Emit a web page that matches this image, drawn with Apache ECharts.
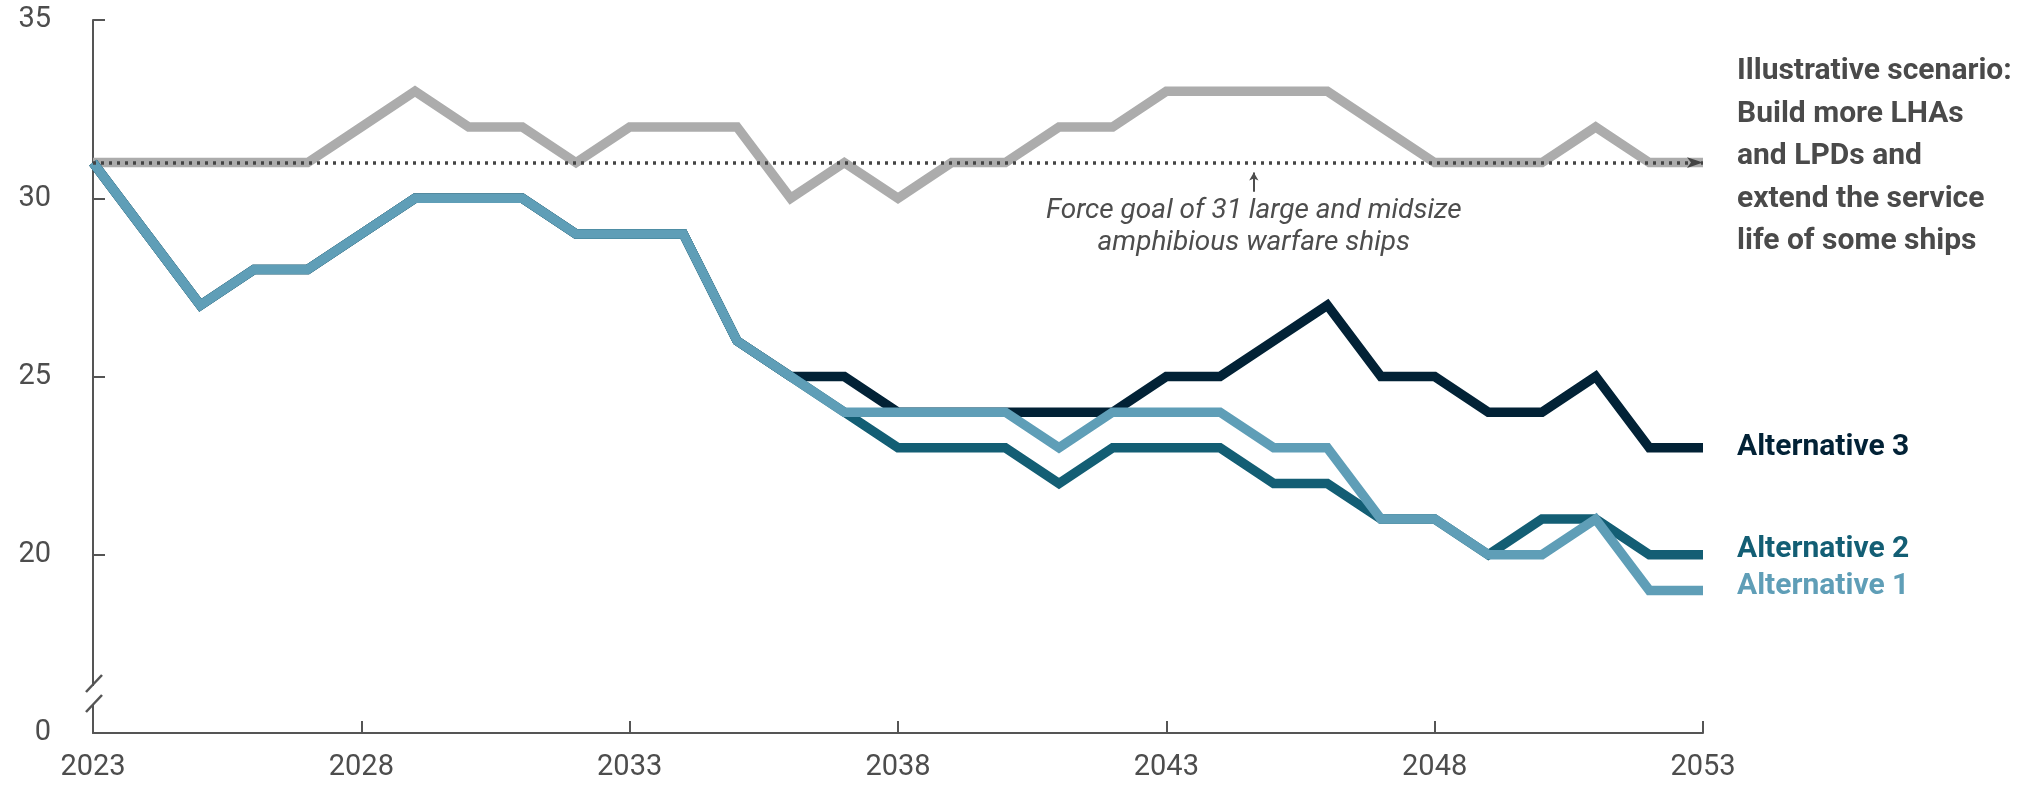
<!DOCTYPE html>
<html>
<head>
<meta charset="utf-8">
<script src="https://cdn.jsdelivr.net/npm/echarts@6/dist/echarts.min.js"></script>
<style>
  html, body { margin: 0; padding: 0; background: #fff; }
  #chart { width: 2033px; height: 787px; }
</style>
</head>
<body>
<div id="chart"></div>
<script>
// years on the x axis
const years = [2023, 2024, 2025, 2026, 2027, 2028, 2029, 2030, 2031, 2032,
  2033, 2034, 2035, 2036, 2037, 2038, 2039, 2040, 2041, 2042,
  2043, 2044, 2045, 2046, 2047, 2048, 2049, 2050, 2051, 2052, 2053]

// number of large and midsize amphibious warfare ships
const scenario = [31, 31, 31, 31, 31, 32, 33, 32, 32, 31,
  32, 32, 32, 30, 31, 30, 31, 31, 32, 32,
  33, 33, 33, 33, 32, 31, 31, 31, 32, 31, 31]
const alt3 = [31, 29, 27, 28, 28, 29, 30, 30, 30, 29,
  29, 29, 26, 25, 25, 24, 24, 24, 24, 24,
  25, 25, 26, 27, 25, 25, 24, 24, 25, 23, 23]
const alt2 = [31, 29, 27, 28, 28, 29, 30, 30, 30, 29,
  29, 29, 26, 25, 24, 23, 23, 23, 22, 23,
  23, 23, 22, 22, 21, 21, 20, 21, 21, 20, 20]
const alt1 = [31, 29, 27, 28, 28, 29, 30, 30, 30, 29,
  29, 29, 26, 25, 24, 24, 24, 24, 23, 24,
  24, 24, 23, 23, 21, 21, 20, 20, 21, 19, 19]

const forceGoal = 31
const yTicks = [15, 20, 25, 30, 35] // 15 sits at the broken bottom, shown as 0
const scenarioLabel = 'Illustrative scenario:\nBuild more LHAs\nand LPDs and\nextend the service\nlife of some ships'
const goalNote = 'Force goal of 31 large and midsize\namphibious warfare ships'

const FONT = 'Roboto, "Noto Sans", sans-serif'
const TEXT = '#4d4d4d'
const AXIS = '#555555'

function pairs (vals) {
  return years.map((y, i) => [y, vals[i]])
}

function lineSeries (name, vals, color, labelText, labelColor, offsetY) {
  return {
    name: name,
    type: 'line',
    data: pairs(vals),
    symbol: 'none',
    lineStyle: { color: color, width: 9.5, join: 'miter', cap: 'butt' },
    endLabel: {
      show: true,
      formatter: labelText,
      color: labelColor,
      fontFamily: FONT,
      fontWeight: 'bold',
      fontSize: 30,
      lineHeight: 42.5,
      distance: 34,
      align: 'left',
      offset: [0, offsetY]
    }
  }
}

let myChart = echarts.init(document.getElementById('chart'), null, { renderer: 'canvas' })

const alt1Series = lineSeries('Alternative 1', alt1, '#5f9eb7', 'Alternative 1', '#5f9eb7', -4)
alt1Series.markLine = {
  silent: true,
  animation: false,
  label: { show: false },
  data: [
    {
      yAxis: forceGoal,
      symbol: 'none',
      lineStyle: { color: '#444', width: 3.5, type: [3, 5] }
    },
    [
      { coord: [2044.63, 30.18], symbol: 'none' },
      { coord: [2044.63, 30.72], symbol: 'arrow', symbolSize: [7, 8] }
    ]
  ],
  lineStyle: { color: TEXT, width: 2, type: 'solid' }
}
alt1Series.markPoint = {
  silent: true,
  animation: false,
  symbol: 'circle',
  symbolSize: 0,
  data: [{ coord: [2044.63, 29.2] }],
  label: {
    show: true,
    position: 'inside',
    formatter: goalNote,
    color: TEXT,
    fontFamily: FONT,
    fontStyle: 'italic',
    fontSize: 28,
    lineHeight: 32,
    align: 'center',
    verticalAlign: 'middle'
  }
}

myChart.setOption({
  animation: false,
  backgroundColor: '#fff',
  grid: {
    left: 93,
    right: 330,
    top: 20,
    bottom: 54,
    containLabel: false
  },
  xAxis: {
    type: 'value',
    min: years[0],
    max: years[years.length - 1],
    interval: 5,
    splitLine: { show: false },
    axisLine: { show: true, onZero: false, lineStyle: { color: AXIS, width: 2 } },
    axisTick: { show: true, inside: true, length: 12, lineStyle: { color: AXIS, width: 2 } },
    axisLabel: {
      color: TEXT,
      fontFamily: FONT,
      fontSize: 29,
      margin: 20,
      formatter: v => String(v)
    }
  },
  yAxis: {
    type: 'value',
    min: yTicks[0],
    max: yTicks[yTicks.length - 1],
    interval: 5,
    splitLine: { show: false },
    axisLine: { show: true, lineStyle: { color: AXIS, width: 2 } },
    axisTick: { show: true, inside: true, length: 12, lineStyle: { color: AXIS, width: 2 } },
    axisLabel: {
      color: TEXT,
      fontFamily: FONT,
      fontSize: 29,
      margin: 42,
      formatter: v => (v === yTicks[0] ? '0' : String(v))
    }
  },
  series: [
    lineSeries('Illustrative scenario', scenario, '#acacac', scenarioLabel, '#4a4a4a', -6),
    lineSeries('Alternative 3', alt3, '#022236', 'Alternative 3', '#022236', 0),
    lineSeries('Alternative 2', alt2, '#135e74', 'Alternative 2', '#135e74', -5),
    alt1Series
  ]
})

// axis break marks near the bottom of the y axis
let base = myChart.convertToPixel({ gridIndex: 0 }, [years[0], yTicks[0]])
let bx = base[0]
let by = base[1]
myChart.setOption({
  graphic: [
    {
      type: 'rect',
      shape: { x: bx - 4, y: by - 47, width: 8, height: 19 },
      style: { fill: '#fff' },
      z: 100
    },
    {
      type: 'line',
      shape: { x1: bx - 7, y1: by - 41, x2: bx + 9, y2: by - 58 },
      style: { stroke: AXIS, lineWidth: 2.5 },
      z: 101
    },
    {
      type: 'line',
      shape: { x1: bx - 7, y1: by - 21, x2: bx + 9, y2: by - 38 },
      style: { stroke: AXIS, lineWidth: 2.5 },
      z: 101
    }
  ]
})
</script>
</body>
</html>
